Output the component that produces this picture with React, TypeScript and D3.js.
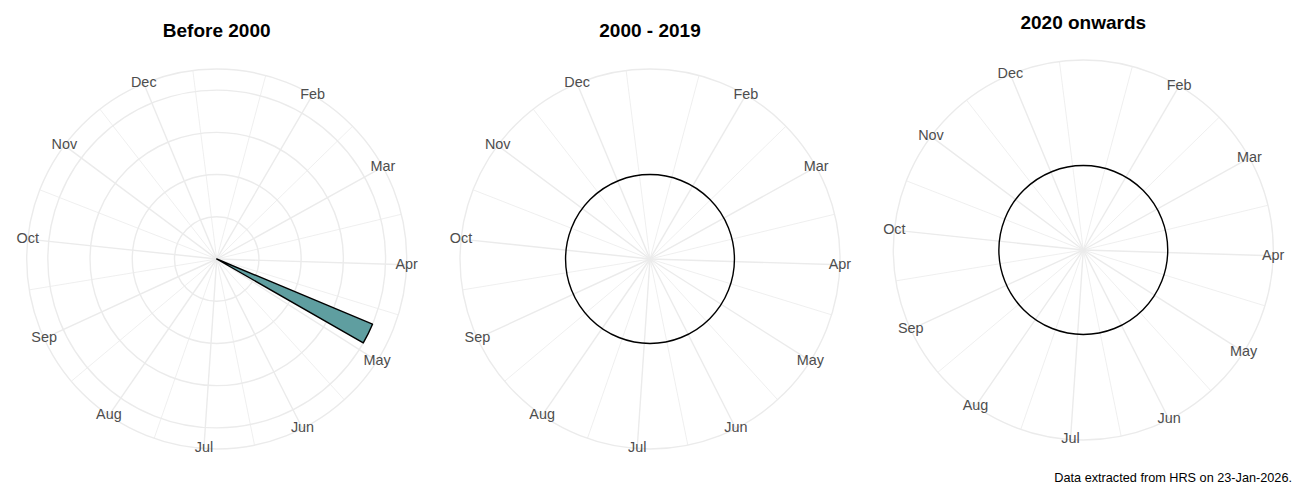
import { useEffect, useRef } from 'react';
import * as d3 from 'd3';

interface Bar {
  x0: number; // month-of-year start (1 = Jan)
  x1: number;
  n: number;
}

// Panel titles
const panelTitles = ['Before 2000', '2000 - 2019', '2020 onwards'];

// Theta axis: numeric month of year, breaks at each month
const monthBreaks = [1, 2, 3, 4, 5, 6, 7, 8, 9, 10, 11, 12];
const monthLabels = ['Jan', 'Feb', 'Mar', 'Apr', 'May', 'Jun', 'Jul', 'Aug', 'Sep', 'Oct', 'Nov', 'Dec'];
const thetaLimits = [1.013, 12.735];

// Radial breaks (fraction of the max count)
const radialBreaks = [0, 0.25, 0.5, 0.75, 1];

// Bars per panel
const before2000: Bar[] = [{ x0: 4.683, x1: 4.914, n: 1 }];
const from2000to2019: Bar[] = [{ x0: 1.013, x1: 12.735, n: 0 }];
const from2020: Bar[] = [{ x0: 1.013, x1: 12.735, n: 0 }];
const panelData = [before2000, from2000to2019, from2020];

const caption = 'Data extracted from HRS on 23-Jan-2026.';

const W = 1300;
const H = 500;
const FONT = '"Liberation Sans", Arial, sans-serif';

const App = () => {
  const chartRef = useRef<SVGSVGElement>(null);

  useEffect(() => {
    if (!chartRef.current) return;
    const svg = d3.select(chartRef.current);
    svg.selectAll('*').remove();

    // panel layout
    const panelCx = [216.7, 650, 1083.3];
    const panelCy = [259, 259, 250];
    const titleY = [37.3, 37.3, 28.7];
    const outerR = 190;
    const dataR = (outerR * 0.4) / 0.45;
    const gridColor = '#EBEBEB';

    const theta = d3.scaleLinear().domain(thetaLimits).range([0, 2 * Math.PI]);
    const inLimits = (v: number) => v >= thetaLimits[0] && v <= thetaLimits[1];
    const majors = monthBreaks.map((b, i) => ({ b, label: monthLabels[i] })).filter(d => inLimits(d.b));
    // minor breaks half-way between majors (extended one step each side)
    const minors = d3
      .range(monthBreaks[0] - 0.5, monthBreaks[monthBreaks.length - 1] + 1, 1)
      .filter(inLimits);

    panelData.forEach((data, i) => {
      const g = svg.append('g').attr('transform', `translate(${panelCx[i]},${panelCy[i]})`);
      const yMax = d3.max(data, d => d.n) ?? 0;
      const r = d3.scaleLinear().domain([0, yMax]).range([0, dataR]);

      // minor theta grid
      g.selectAll('.minor')
        .data(minors)
        .enter()
        .append('line')
        .attr('x1', 0)
        .attr('y1', 0)
        .attr('x2', d => outerR * Math.sin(theta(d)))
        .attr('y2', d => -outerR * Math.cos(theta(d)))
        .attr('stroke', gridColor)
        .attr('stroke-width', 0.8);

      // major theta grid
      g.selectAll('.major')
        .data(majors)
        .enter()
        .append('line')
        .attr('x1', 0)
        .attr('y1', 0)
        .attr('x2', d => outerR * Math.sin(theta(d.b)))
        .attr('y2', d => -outerR * Math.cos(theta(d.b)))
        .attr('stroke', gridColor)
        .attr('stroke-width', 1.4);

      // radial circles
      const rings = yMax > 0 ? radialBreaks.map(b => r(b * yMax)) : [];
      g.selectAll('.ring')
        .data([...rings, outerR])
        .enter()
        .append('circle')
        .attr('r', d => d)
        .attr('fill', 'none')
        .attr('stroke', gridColor)
        .attr('stroke-width', 1.4);

      // bars
      const arc = d3
        .arc<Bar>()
        .innerRadius(() => r(0))
        .outerRadius(d => r(d.n))
        .startAngle(d => theta(d.x0))
        .endAngle(d => theta(d.x1));
      g.selectAll('.bar')
        .data(data)
        .enter()
        .append('path')
        .attr('d', d => arc(d) || '')
        .attr('fill', '#5F9EA0')
        .attr('stroke', '#000000')
        .attr('stroke-width', 1.4)
        .attr('stroke-linejoin', 'round');

      // month labels on outer circle
      g.selectAll('.month')
        .data(majors)
        .enter()
        .append('text')
        .attr('x', d => outerR * Math.sin(theta(d.b)))
        .attr('y', d => -outerR * Math.cos(theta(d.b)))
        .attr('dy', '0.27em')
        .attr('text-anchor', 'middle')
        .style('font-family', FONT)
        .style('font-size', '14.4px')
        .attr('fill', '#4D4D4D')
        .text(d => d.label);

      // title
      svg.append('text')
        .attr('x', panelCx[i])
        .attr('y', titleY[i])
        .attr('text-anchor', 'middle')
        .style('font-family', FONT)
        .style('font-size', '19px')
        .style('font-weight', 'bold')
        .attr('fill', '#000000')
        .text(panelTitles[i]);
    });

    // caption
    svg.append('text')
      .attr('x', 1292)
      .attr('y', 481.7)
      .attr('text-anchor', 'end')
      .style('font-family', FONT)
      .style('font-size', '12.7px')
      .attr('fill', '#000000')
      .text(caption);
  }, []);

  return (
    <svg
      ref={chartRef}
      width={W}
      height={H}
      style={{ position: 'absolute', left: 0, top: 0, background: '#ffffff', display: 'block' }}
    />
  );
};

export default App;
